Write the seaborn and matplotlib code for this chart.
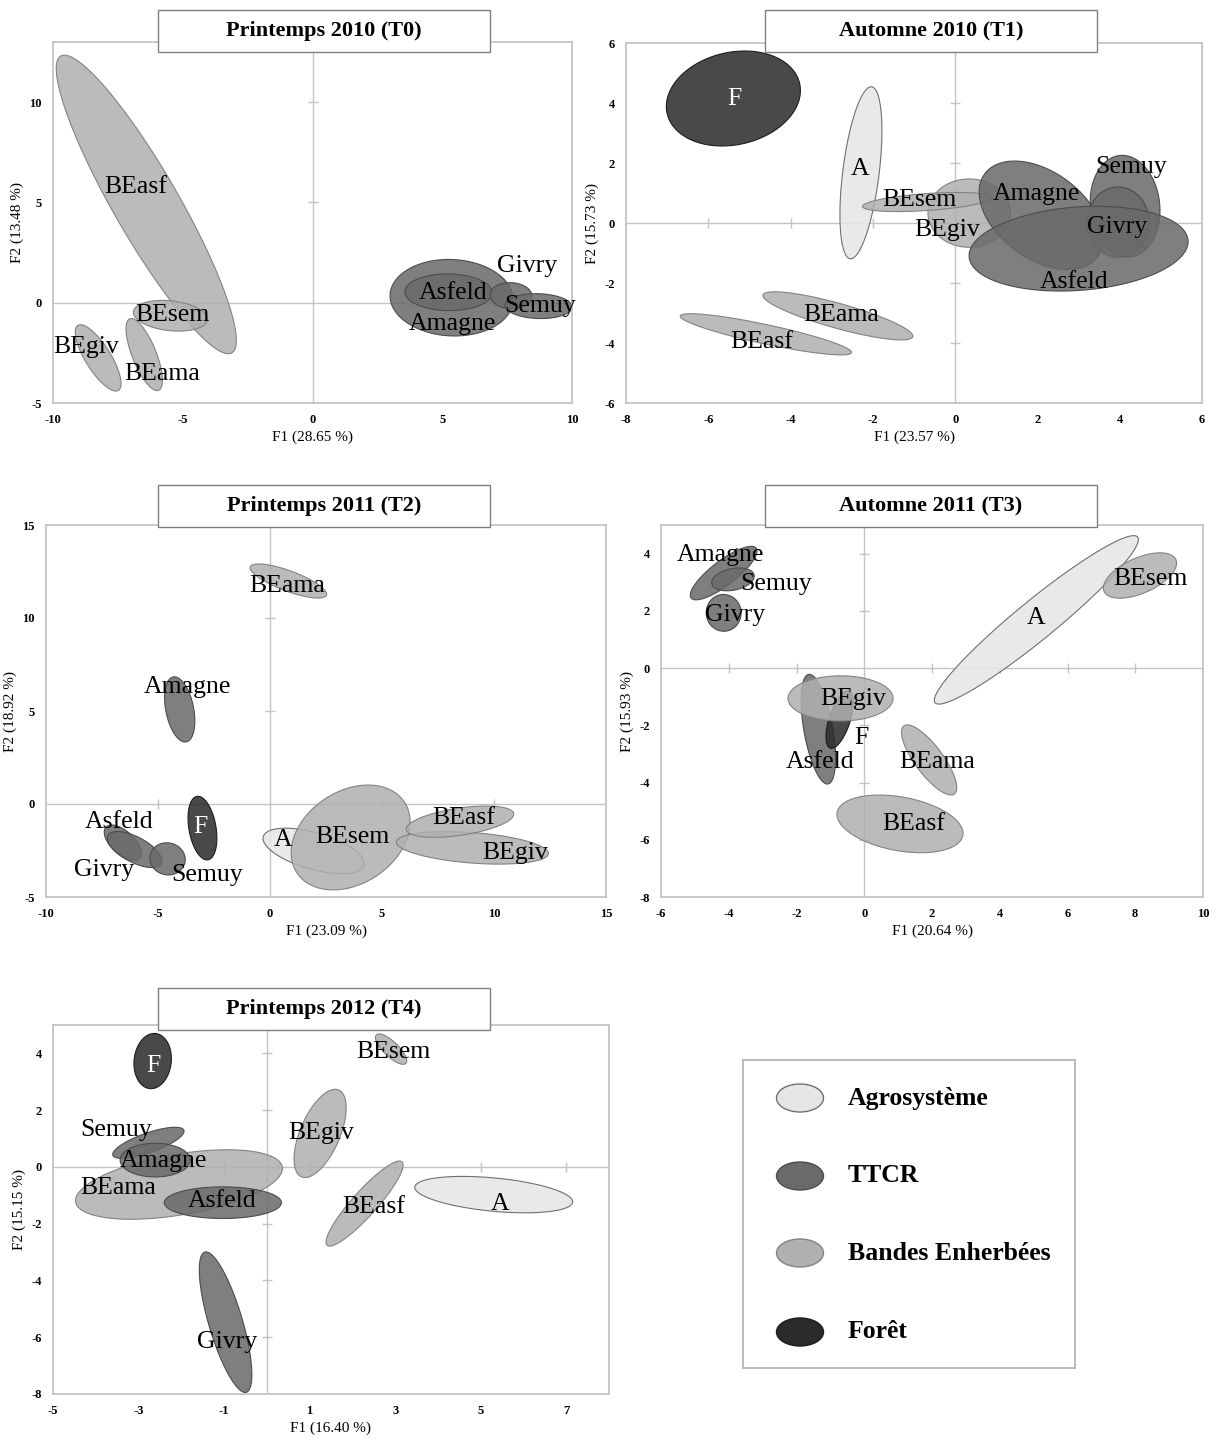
import numpy as np
import pandas as pd
import matplotlib
matplotlib.use("Agg")
import matplotlib.pyplot as plt
import seaborn as sns
from matplotlib.patches import Rectangle, Ellipse
from matplotlib.colors import to_rgb

sns.set_style("white")
plt.rcParams['font.family'] = ['Liberation Serif', 'DejaVu Serif']
plt.rcParams['axes.unicode_minus'] = False
plt.rcParams['text.color'] = 'black'
plt.rcParams['axes.labelcolor'] = 'black'
plt.rcParams['xtick.color'] = 'black'
plt.rcParams['ytick.color'] = 'black'

# ---------------- DATA ----------------
legend_labels = ["Agrosystème", "TTCR", "Bandes Enherbées", "Forêt"]
legend_groups = ["A", "T", "B", "F"]

titles = ["Printemps 2010 (T0)", "Automne 2010 (T1)", "Printemps 2011 (T2)",
          "Automne 2011 (T3)", "Printemps 2012 (T4)"]
xlabels = ["F1 (28.65 %)", "F1 (23.57 %)", "F1 (23.09 %)", "F1 (20.64 %)", "F1 (16.40 %)"]
ylabels = ["F2 (13.48 %)", "F2 (15.73 %)", "F2 (18.92 %)", "F2 (15.93 %)", "F2 (15.15 %)"]

# T0 : Printemps 2010
T0_site  = ["BEasf", "BEsem", "BEgiv", "BEama", "Amagne", "Asfeld", "Givry", "Semuy"]
T0_group = ["B", "B", "B", "B", "T", "T", "T", "T"]
T0_x1    = [-9.70, -6.90, -9.04, -7.04, 2.99, 3.56, 6.84, 7.42]
T0_y1    = [12.30, -0.45, -1.13, -0.80, 0.40, 0.55, 0.40, -0.12]
T0_x2    = [-3.11, -4.05, -7.48, -5.93, 7.73, 6.92, 8.46, 10.00]
T0_y2    = [-2.50, -0.85, -4.37, -4.37, 0.10, 0.49, 0.30, -0.22]
T0_ratio = [0.19, 0.40, 0.33, 0.31, 0.62, 0.42, 0.62, 0.37]
T0_lx    = [-6.81, -5.40, -8.74, -5.78, 5.41, 5.41, 8.27, 8.77]
T0_ly    = [5.76, -0.63, -2.20, -3.54, -1.04, 0.50, 1.84, -0.15]

# T1 : Automne 2010
T1_site  = ["F", "A", "BEgiv", "BEsem", "Amagne", "Semuy", "Givry", "Asfeld", "BEama", "BEasf"]
T1_group = ["F", "A", "B", "B", "T", "T", "T", "T", "B", "B"]
T1_x1    = [-7.00, -2.03, -0.66, -2.25, 0.72, 4.00, 3.96, 0.34, -4.67, -6.68]
T1_y1    = [3.65, 4.54, 0.33, 0.55, 1.64, 2.25, 1.20, -1.13, -2.40, -3.10]
T1_x2    = [-3.78, -2.55, 1.34, 0.90, 3.46, 4.26, 3.96, 5.66, -1.03, -2.52]
T1_y2    = [4.65, -1.19, 0.33, 0.85, -1.13, -1.13, -1.14, -0.58, -3.79, -4.32]
T1_ratio = [0.68, 0.21, 0.83, 0.13, 0.62, 0.68, 0.88, 0.38, 0.16, 0.11]
T1_lx    = [-5.36, -2.30, -0.19, -0.86, 1.97, 4.27, 3.94, 2.88, -2.77, -4.69]
T1_ly    = [4.13, 1.80, -0.24, 0.75, 0.98, 1.86, -0.13, -1.96, -3.07, -3.96]

# T2 : Printemps 2011
T2_site  = ["BEama", "Amagne", "A", "BEsem", "BEgiv", "BEasf", "Asfeld", "Givry", "Semuy", "F"]
T2_group = ["B", "T", "A", "B", "B", "B", "T", "T", "T", "F"]
T2_x1    = [-0.88, -4.32, -0.30, 1.20, 5.64, 6.08, -7.32, -7.23, -5.35, -3.26]
T2_y1    = [12.75, 6.83, -1.75, -3.70, -2.04, -1.38, -1.24, -1.69, -2.75, 0.41]
T2_x2    = [2.52, -3.74, 4.20, 6.00, 12.43, 10.88, -5.82, -4.85, -3.80, -2.77]
T2_y2    = [11.23, 3.34, -3.30, 0.10, -2.67, -0.52, -2.94, -3.21, -3.15, -3.00]
T2_ratio = [0.25, 0.42, 0.35, 0.72, 0.20, 0.25, 0.50, 0.42, 0.90, 0.42]
T2_lx    = [0.79, -3.70, 0.58, 3.70, 10.93, 8.64, -6.74, -7.41, -2.82, -3.09]
T2_ly    = [11.71, 6.30, -1.96, -1.78, -2.64, -0.75, -0.97, -3.57, -3.80, -1.24]

# T3 : Automne 2011
T3_site  = ["A", "BEsem", "Amagne", "Semuy", "Givry", "Asfeld", "F", "BEgiv", "BEama", "BEasf"]
T3_group = ["A", "B", "T", "T", "T", "T", "F", "B", "B", "B"]
T3_x1    = [2.09, 7.08, -5.11, -4.50, -4.20, -1.64, -0.45, -2.25, 1.17, -0.80]
T3_y1    = [-1.21, 2.68, 2.45, 2.95, 2.57, -0.22, -0.80, -1.06, -2.02, -5.04]
T3_x2    = [8.07, 9.20, -3.19, -3.25, -4.10, -1.07, -1.00, 0.85, 2.66, 2.91]
T3_y2    = [4.58, 3.79, 4.19, 3.25, 1.29, -4.05, -2.80, -1.06, -4.40, -5.85]
T3_ratio = [0.15, 0.45, 0.30, 0.50, 0.95, 0.26, 0.35, 0.43, 0.33, 0.42]
T3_lx    = [5.07, 8.45, -4.24, -2.59, -3.82, -1.30, -0.09, -0.34, 2.14, 1.46]
T3_ly    = [1.75, 3.11, 3.96, 2.95, 1.84, -3.28, -2.43, -1.09, -3.28, -5.45]

# T4 : Printemps 2012
T4_site  = ["F", "BEsem", "BEgiv", "BEama", "Semuy", "Amagne", "Asfeld", "Givry", "BEasf", "A"]
T4_group = ["F", "B", "B", "B", "T", "T", "T", "T", "B", "A"]
T4_x1    = [-2.60, 2.56, 0.81, -4.47, -3.60, -3.43, -2.40, -1.45, 1.41, 3.46]
T4_y1    = [4.70, 4.65, -0.35, -1.24, 0.41, 0.24, -1.26, -3.00, -2.76, -0.71]
T4_x2    = [-2.74, 3.25, 1.68, 0.36, -1.94, -1.79, 0.34, -0.48, 3.16, 7.15]
T4_y2    = [2.76, 3.65, 2.71, 0.00, 1.29, 0.24, -1.26, -7.94, 0.18, -1.24]
T4_ratio = [0.67, 0.36, 0.42, 0.29, 0.26, 0.48, 0.27, 0.23, 0.22, 0.21]
T4_lx    = [-2.65, 2.97, 1.27, -3.48, -3.53, -2.42, -1.04, -0.94, 2.51, 5.46]
T4_ly    = [3.56, 4.06, 1.18, -0.76, 1.29, 0.20, -1.21, -6.18, -1.41, -1.29]

# axis ranges / ticks
xlims = [(-10, 10), (-8, 6), (-10, 15), (-6, 10), (-5, 8)]
ylims = [(-5, 13), (-6, 6), (-5, 15), (-8, 5), (-8, 5)]
xtick_list = [[-10, -5, 0, 5, 10], [-8, -6, -4, -2, 0, 2, 4, 6], [-10, -5, 0, 5, 10, 15],
              [-6, -4, -2, 0, 2, 4, 6, 8, 10], [-5, -3, -1, 1, 3, 5, 7]]
ytick_list = [[-5, 0, 5, 10], [-6, -4, -2, 0, 2, 4, 6], [-5, 0, 5, 10, 15],
              [-8, -6, -4, -2, 0, 2, 4], [-8, -6, -4, -2, 0, 2, 4]]

# ---------------- STYLE ----------------
FILL = {"A": "#e6e6e6", "T": "#6a6a6a", "B": "#b0b0b0", "F": "#2b2b2b"}
EDGE = {"A": "#707070", "T": "#4c4c4c", "B": "#838383", "F": "#1c1c1c"}
GRID = "#c4c4c4"

W, H = 1217, 1443
fig = plt.figure(figsize=(W / 100, H / 100), dpi=100)

# layout in pixels: left, right, top, bottom
axes_px = [(53, 572, 42, 403), (626, 1202, 43, 403), (46, 606, 525, 897),
           (661, 1203, 525, 897), (53, 609, 1025, 1394)]
title_px = [(158, 490, 10, 52), (765, 1097, 10, 52), (158, 490, 485, 527),
            (765, 1097, 485, 527), (158, 490, 988, 1030)]


def frac_rect(l, r, t, b):
    return [l / W, 1 - b / H, (r - l) / W, (b - t) / H]


def ellipse_xy(p1, p2, ratio, sx, sy, n=240):
    (x1, y1), (x2, y2) = p1, p2
    cx, cy = (x1 + x2) / 2, (y1 + y2) / 2
    ux, uy = (x2 - x1) / 2, (y2 - y1) / 2
    vx = -ratio * uy * sy / sx
    vy = ratio * ux * sx / sy
    t = np.linspace(0, 2 * np.pi, n)
    return cx + ux * np.cos(t) + vx * np.sin(t), cy + uy * np.cos(t) + vy * np.sin(t)


panels = [
    (T0_site, T0_group, T0_x1, T0_y1, T0_x2, T0_y2, T0_ratio, T0_lx, T0_ly),
    (T1_site, T1_group, T1_x1, T1_y1, T1_x2, T1_y2, T1_ratio, T1_lx, T1_ly),
    (T2_site, T2_group, T2_x1, T2_y1, T2_x2, T2_y2, T2_ratio, T2_lx, T2_ly),
    (T3_site, T3_group, T3_x1, T3_y1, T3_x2, T3_y2, T3_ratio, T3_lx, T3_ly),
    (T4_site, T4_group, T4_x1, T4_y1, T4_x2, T4_y2, T4_ratio, T4_lx, T4_ly),
]

for i, pdata in enumerate(panels):
    df = pd.DataFrame(dict(zip(["site", "group", "x1", "y1", "x2", "y2", "ratio", "lx", "ly"], pdata)))
    l, r, t, b = axes_px[i]
    ax = fig.add_axes(frac_rect(l, r, t, b))
    ax.set_xlim(xlims[i])
    ax.set_ylim(ylims[i])
    ax.set_xticks(xtick_list[i])
    ax.set_yticks(ytick_list[i])
    ax.tick_params(length=0, labelsize=9, pad=8, colors="black")
    for lab in ax.get_xticklabels() + ax.get_yticklabels():
        lab.set_fontweight("bold")
    for sp in ax.spines.values():
        sp.set_color(GRID)
        sp.set_linewidth(1.3)
    ax.set_xlabel(xlabels[i], fontsize=11, labelpad=3, color="black")
    ax.set_ylabel(ylabels[i], fontsize=11, labelpad=4, color="black")

    ax.axhline(0, color=GRID, lw=1.0, zorder=0)
    ax.axvline(0, color=GRID, lw=1.0, zorder=0)
    xt = [v for v in xtick_list[i] if v not in (0, xlims[i][0], xlims[i][1])]
    yt = [v for v in ytick_list[i] if v not in (0, ylims[i][0], ylims[i][1])]
    ax.plot(xt, [0] * len(xt), ls="none", marker="|", ms=7, color=GRID, zorder=0)
    ax.plot([0] * len(yt), yt, ls="none", marker="_", ms=7, color=GRID, zorder=0)

    sx = (r - l) / (xlims[i][1] - xlims[i][0])
    sy = (b - t) / (ylims[i][1] - ylims[i][0])
    for k, row in enumerate(df.itertuples()):
        X, Y = ellipse_xy((row.x1, row.y1), (row.x2, row.y2), row.ratio, sx, sy)
        ax.fill(X, Y, facecolor=(*to_rgb(FILL[row.group]), 0.86),
                edgecolor=EDGE[row.group], lw=0.8, zorder=2 + k * 0.01)
    for row in df.itertuples():
        inside_dark = row.group == "F" and i != 3
        ax.text(row.lx, row.ly, row.site, ha="center", va="center", fontsize=18.5,
                color="white" if inside_dark else "black", zorder=5)

    tl, tr, tt, tb = title_px[i]
    fig.patches.append(Rectangle((tl / W, 1 - tb / H), (tr - tl) / W, (tb - tt) / H,
                                 transform=fig.transFigure, facecolor="white",
                                 edgecolor="#808080", lw=1.0, zorder=10))
    fig.text((tl + tr) / 2 / W, 1 - (tt + tb) / 2 / H, titles[i], ha="center", va="center",
             fontsize=16, fontweight="bold", color="black", zorder=11)

# ---------------- LEGEND BOX ----------------
lax = fig.add_axes(frac_rect(743, 1075, 1060, 1368))
lax.set_xlim(0, 332)
lax.set_ylim(308, 0)
lax.set_xticks([])
lax.set_yticks([])
for sp in lax.spines.values():
    sp.set_color("#b0b0b0")
    sp.set_linewidth(1.2)
row_y = [38, 116, 193, 272]
for lab, g, yy in zip(legend_labels, legend_groups, row_y):
    lax.add_patch(Ellipse((57, yy), 47, 28, facecolor=FILL[g], edgecolor=EDGE[g], lw=1.0))
    lax.text(105, yy, lab, ha="left", va="center", fontsize=18.5, fontweight="bold", color="black")

fig.savefig("out.png", dpi=100)
